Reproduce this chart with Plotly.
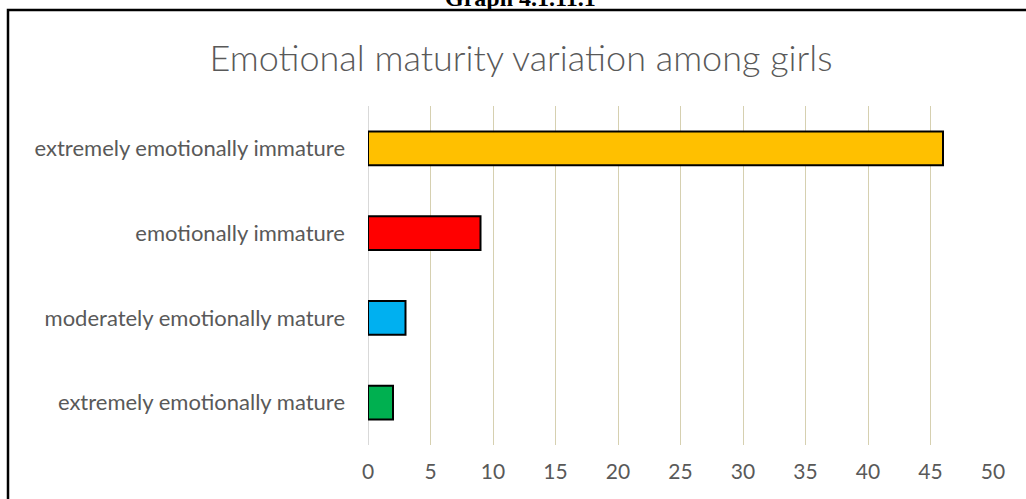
import plotly.graph_objects as go

# data, bottom to top as drawn
categories = [
    "extremely emotionally mature",
    "moderately emotionally mature",
    "emotionally immature",
    "extremely emotionally immature",
]
values = [2, 3, 9, 46]
bar_colors = ["#00B050", "#00B0F0", "#FF0000", "#FFC000"]
x_ticks = list(range(0, 51, 5))

W, H = 1026, 499
L, R, T, B = 368, 33, 106, 54
PW, PH = W - L - R, H - T - B


def px_x(p):
    return (p - L) / PW


def px_y(p):
    return (H - B - p) / PH


fig = go.Figure()

fig.add_trace(go.Bar(
    x=values,
    y=categories,
    orientation="h",
    width=0.4,
    marker=dict(color=bar_colors, line=dict(color="black", width=2)),
    hoverinfo="x+y",
))

# outer chart frame (partly cut off by the page)
fig.add_shape(type="rect", xref="paper", yref="paper",
              x0=px_x(8), x1=px_x(1040), y0=px_y(520), y1=px_y(10),
              line=dict(color="black", width=2.5), fillcolor="rgba(0,0,0,0)",
              layer="below")

fig.add_annotation(text="<b>Graph 4.1.11.1</b>", xref="paper", yref="paper",
                   x=px_x(520), y=px_y(13), xanchor="center", yanchor="bottom",
                   showarrow=False,
                   font=dict(family="Liberation Serif", size=24, color="black"))

fig.update_layout(
    width=W,
    height=H,
    margin=dict(l=L, r=R, t=T, b=B),
    paper_bgcolor="white",
    plot_bgcolor="white",
    showlegend=False,
    title=dict(
        text="Emotional maturity variation among girls",
        x=px_x(521), xref="paper", xanchor="center",
        y=1 - 58 / H, yref="container", yanchor="middle",
        font=dict(family="Lato", size=36, color="#595959", weight=300),
    ),
    font=dict(family="Lato", size=22, color="#595959"),
    xaxis=dict(
        range=[0, 50],
        tickvals=x_ticks,
        showgrid=True,
        gridcolor="#D6D0B0",
        gridwidth=1,
        zeroline=True,
        zerolinecolor="#D9D9D9",
        zerolinewidth=1,
        showline=False,
        ticklabelstandoff=12,
        tickfont=dict(size=21, color="#595959"),
    ),
    yaxis=dict(
        range=[-0.5, 3.5],
        showgrid=False,
        showline=False,
        ticks="",
        ticklabelstandoff=22,
        tickfont=dict(size=22, color="#595959"),
    ),
)

fig.write_html("out.html", config={"displayModeBar": False},
               post_script="document.body.style.margin='0';")
